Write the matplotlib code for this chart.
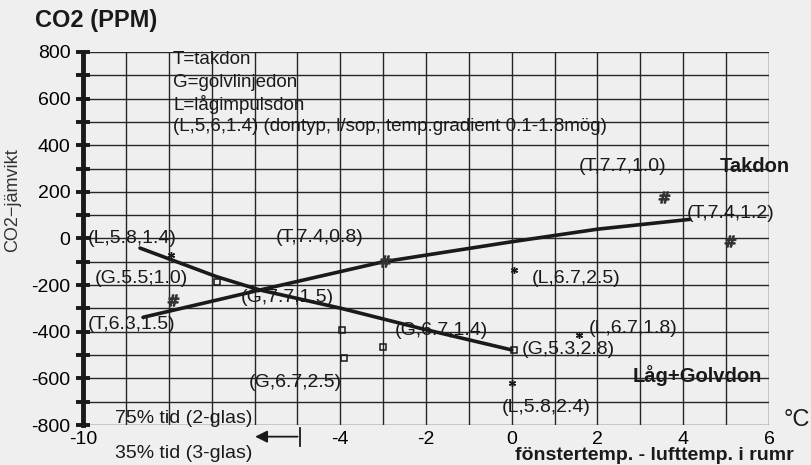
import matplotlib
matplotlib.use("Agg")
import matplotlib.pyplot as plt

plt.rcParams["font.family"] = ["Liberation Sans", "DejaVu Sans"]
plt.rcParams["axes.unicode_minus"] = False

# regressionslinjer (avlästa)
takdon_line_x = [-8.6, -5.9, -3.0, 0.0, 2.0, 4.15]
takdon_line_y = [-338, -222, -100, -14, 40, 82]
lag_line_x = [-8.67, -6.88, -5.87, -3.97, -2.14, 0.0]
lag_line_y = [-41, -164, -221, -300, -385, -478]

# mätpunkter
takdon_x = [-7.9, -2.95, 3.55, 5.1]
takdon_y = [-265, -95, 180, -12]
golv_x = [-6.88, -3.95, -3.91, -3.01, 0.05]
golv_y = [-185, -393, -514, -467, -478]
lag_x = [-7.95, 0.05, 1.56, 0.0]
lag_y = [-70, -135, -414, -621]

point_labels = ["(L,5.8,1.4)", "(T,7.4,0.8)", "(G.5.5;1.0)", "(G,7.7,1.5)",
                "(T,6.3,1.5)", "(G,6.7,1.4)", "(L,6.7,2.5)", "(L,6.7,1.8)",
                "(G,5.3,2.8)", "(L,5.8,2.4)", "(G,6.7,2.5)", "(T,7.7,1.0)",
                "(T,7.4,1.2)"]
legend_lines = ["T=takdon", "G=golvlinjedon", "L=lågimpulsdon",
                "(L,5,6,1.4) (dontyp, l/sop, temp.gradient 0.1-1.8mög)"]

yticks = list(range(-800, 801, 200))
xticks = [-10, -4, -2, 0, 2, 4, 6]

bg = "#efefef"
ink = "#1a1a1a"

fig = plt.figure(figsize=(8.12, 4.65), dpi=100, facecolor=bg)
ax = fig.add_axes([83 / 812, 1 - 425 / 465, 686 / 812, 373 / 465], facecolor=bg)
ax.set_xlim(-10, 6)
ax.set_ylim(-800, 800)

# rutnät
for gx in range(-10, 7):
    ax.axvline(gx, color="#262626", lw=1.0, zorder=1)
for gy in range(-800, 801, 100):
    ax.axhline(gy, color="#262626", lw=1.0, zorder=1)

for s in ["top", "right", "bottom"]:
    ax.spines[s].set_visible(False)
ax.spines["left"].set_linewidth(3.5)
ax.spines["left"].set_color(ink)
ax.spines["left"].set_zorder(5)

ax.set_yticks(yticks)
ax.set_yticks(range(-700, 800, 200), minor=True)
ax.tick_params(axis="y", which="both", direction="inout", length=10, width=2.8,
               color=ink, labelsize=14, pad=4)
ax.set_xticks(xticks)
ax.tick_params(axis="x", length=0, labelsize=14, pad=4)

# linjer
ax.plot(takdon_line_x, takdon_line_y, color=ink, lw=2.6, solid_capstyle="round", zorder=3)
ax.plot(lag_line_x, lag_line_y, color=ink, lw=2.6, solid_capstyle="round", zorder=3)

# punkter
ax.plot(takdon_x, takdon_y, ls="none", marker=r"$\#$", ms=8, color="#333333", zorder=4)
ax.plot(golv_x, golv_y, ls="none", marker="s", ms=5, mfc="none", mec=ink, mew=1.1, zorder=4)
ax.plot(lag_x, lag_y, ls="none", marker=(6, 2, 0), ms=5, mec=ink, mew=1.0, zorder=4)

label_pos = [(-9.88, 2), (-5.5, 6), (-9.72, -170), (-6.32, -255),
             (-9.9, -371), (-2.73, -393), (0.47, -170), (1.8, -384),
             (0.23, -478), (-0.23, -723), (-6.13, -616), (1.56, 307),
             (4.08, 109)]
for txt, (lx, ly) in zip(point_labels, label_pos):
    ax.text(lx, ly, txt, fontsize=14, color=ink, ha="left", va="center", zorder=6)

ax.text(4.85, 307, "Takdon", fontsize=14.5, fontweight="bold", color=ink,
        ha="left", va="center", clip_on=False, zorder=6)
ax.text(2.82, -586, "Låg+Golvdon", fontsize=14.5, fontweight="bold", color=ink,
        ha="left", va="center", zorder=6)

for txt, ly in zip(legend_lines, [766, 670, 576, 480]):
    ax.text(-7.9, ly, txt, fontsize=13.5, color=ink, ha="left", va="center", zorder=6)

ax.text(-9.25, -770, "75% tid (2-glas)", fontsize=14, color=ink, ha="left", va="center", zorder=6)
fig.text(115 / 812, 1 - 453 / 465, "35% tid (3-glas)", fontsize=14, color=ink,
         ha="left", va="center")

# pil under x-axeln
ax.annotate("", xy=(-6.05, -850), xytext=(-4.93, -850), xycoords="data",
            annotation_clip=False,
            arrowprops=dict(arrowstyle="-|>", color=ink, lw=1.3, mutation_scale=18))
ax.plot([-4.93, -4.93], [-812, -888], color=ink, lw=1.3, clip_on=False)

fig.text(35 / 812, 1 - 20 / 465, "CO2 (PPM)", fontsize=17, fontweight="bold",
         color=ink, ha="left", va="center")
fig.text(13 / 812, 1 - 200 / 465, "CO2\u2212jämvikt", fontsize=13, color="#333333",
         rotation=90, ha="center", va="center")
fig.text(784 / 812, 1 - 420 / 465, "°C", fontsize=17, color=ink, ha="left", va="center")
fig.text(515 / 812, 1 - 455 / 465, "fönstertemp. - lufttemp. i rumr", fontsize=14,
         fontweight="bold", color=ink, ha="left", va="center")

fig.savefig("out.png", dpi=100, facecolor=bg)
